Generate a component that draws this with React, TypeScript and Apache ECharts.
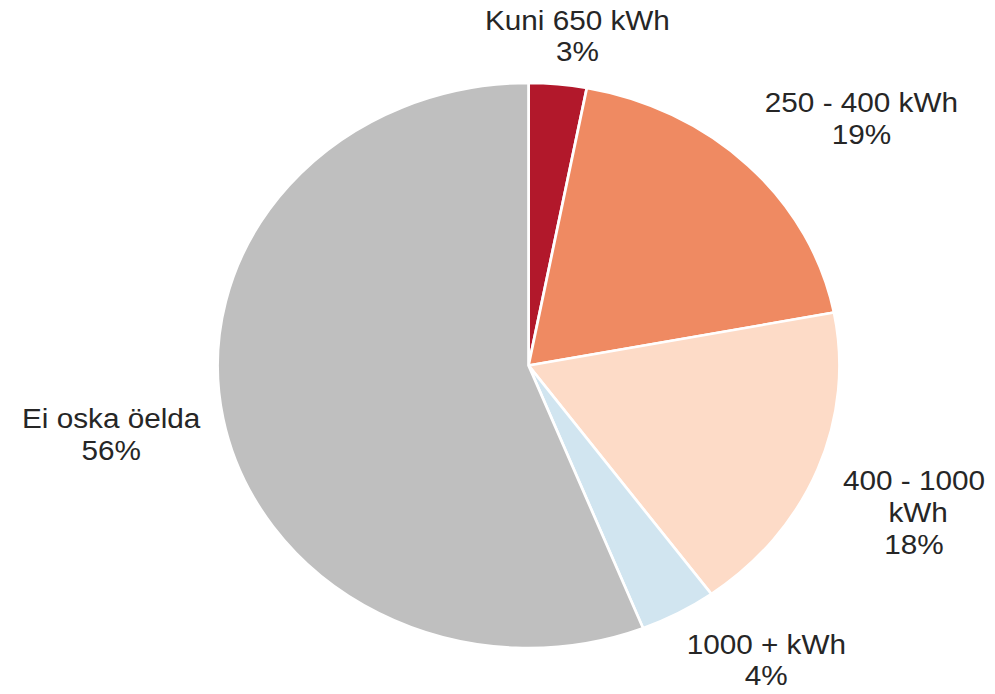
import React, { useEffect, useRef } from "react";
import * as echarts from "echarts";

const categories = ["Kuni 650 kWh", "250 - 400 kWh", "400 - 1000 kWh", "1000 + kWh", "Ei oska öelda"];
const shares = [3, 19, 18, 4, 56];
const colors = ["#B2182B", "#EF8A62", "#FDDBC7", "#D1E5F0", "#BFBFBF"];

const STRETCH = 1.1007;
const BASE_W = 995 / STRETCH;
const CX = 480.2;
const CY = 365.5;
const R = 282.5;
const GAP = 21;
const FONT = 27;
const FONT_FAMILY = "Liberation Sans, Arial, sans-serif";
const MAX_LINE = 178;
const WRAP_W = 136;

function measure(text: string): number {
  const c = document.createElement("canvas").getContext("2d");
  if (!c) return text.length * FONT * 0.5;
  c.font = `${FONT}px "Liberation Sans"`;
  return c.measureText(text).width;
}

const clamp = (v: number, a: number, b: number) => Math.max(a, Math.min(b, v));

export default function App() {
  const ref = useRef<HTMLDivElement>(null);
  useEffect(() => {
    if (!ref.current) return;
    const chart = echarts.init(ref.current, null, { renderer: "svg" });
    chart.setOption({
      animation: false,
      backgroundColor: "#ffffff",
      series: [
        {
          type: "pie",
          center: [CX, CY],
          radius: [0, R],
          startAngle: 90,
          clockwise: true,
          avoidLabelOverlap: false,
          itemStyle: { borderColor: "#ffffff", borderWidth: 2.5 },
          label: {
            show: true,
            position: "outside",
            formatter: "{b}\n{c}%",
            fontFamily: FONT_FAMILY,
            fontSize: FONT,
            lineHeight: 32,
            color: "#262626",
            align: "center",
          },
          labelLine: { show: true, length: 20, length2: 0, lineStyle: { opacity: 0 } },
          labelLayout: (p: any) => {
            const rect = p.labelRect;
            let ux: number, uy: number;
            const pts = p.labelLinePoints;
            if (pts && pts.length) {
              ux = pts[0][0] - CX;
              uy = pts[0][1] - CY;
            } else {
              ux = rect.x + rect.width / 2 - CX;
              uy = rect.y + rect.height / 2 - CY;
            }
            const len = Math.hypot(ux, uy) || 1;
            ux /= len;
            uy /= len;
            const hw = rect.width / 2;
            const hh = rect.height / 2;
            const d = R + GAP;
            let x = CX + ux * d + clamp(2 * ux, -1, 1) * hw;
            let y = CY + uy * d + clamp(2 * uy, -1, 1) * hh;
            x = clamp(x, hw + 4, BASE_W - hw - 4);
            y = clamp(y, hh + 4, 694 - hh - 2);
            return { x, y, align: "center", verticalAlign: "middle" };
          },
          emphasis: { disabled: true },
          data: categories.map((name, i) => {
            const item: any = { name, value: shares[i], itemStyle: { color: colors[i] } };
            if (measure(name) > MAX_LINE) item.label = { width: WRAP_W, overflow: "break" };
            return item;
          }),
        },
      ],
    });
    return () => chart.dispose();
  }, []);
  return (
    <div
      style={{
        position: "fixed",
        left: 0,
        top: 0,
        width: 995,
        height: 694,
        overflow: "hidden",
        background: "#ffffff",
      }}
    >
      <div
        ref={ref}
        style={{
          width: BASE_W,
          height: 694,
          transform: `scaleX(${STRETCH})`,
          transformOrigin: "0 0",
        }}
      />
    </div>
  );
}
